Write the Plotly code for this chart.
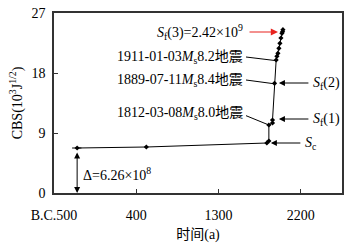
import plotly.graph_objects as go

# Data (year, CBS in 10^3 J^1/2)
years = [-247, 510, 1828, 1850, 1850, 1890, 1890, 1912, 1930, 1938, 1949, 1960, 1971, 1982, 1993, 2000, 2004]
cbs = [6.75, 6.9, 7.5, 7.8, 10.2, 10.5, 10.95, 16.45, 19.95, 20.5, 20.95, 21.7, 22.45, 23.25, 23.95, 24.2, 24.5]

x_tickvals = [-500, 400, 1300, 2200]
x_ticktext = ["B.C.500", "400", "1300", "2200"]
y_tickvals = [0, 9, 18, 27]

FONT = "'Liberation Serif', 'Times New Roman', 'Noto Sans CJK SC', serif"

fig = go.Figure()
fig.add_trace(go.Scatter(
    x=years, y=cbs, mode="lines+markers",
    line=dict(color="black", width=1),
    marker=dict(color="black", size=4, symbol="diamond"),
    showlegend=False, cliponaxis=False,
))

ann = []
labels = [
    ("<i>S</i><sub>f</sub>(3)=2.42×10<sup>9</sup>", 24.15),
    ("1911-01-03<i>M</i><sub>s</sub>8.2地震", 20.4),
    ("1889-07-11<i>M</i><sub>s</sub>8.4地震", 16.95),
    ("1812-03-08<i>M</i><sub>s</sub>8.0地震", 12.0),
]
for t, y in labels:
    ann.append(dict(x=1590, y=y, xref="x", yref="y", text=t, showarrow=False,
                    xanchor="right", yanchor="middle", font=dict(size=14, family=FONT, color="black")))

# arrows
ann.append(dict(x=1950, y=24.15, xref="x", yref="y", ax=-30, ay=0, text="", showarrow=True,
                arrowhead=2, arrowsize=1.2, arrowwidth=1.2, arrowcolor="#e8231f"))
for (hx, hy) in [(1960, 16.5), (1960, 11.1), (1872, 7.5)]:
    ann.append(dict(x=hx, y=hy, xref="x", yref="y", ax=31, ay=0, text="", showarrow=True,
                    arrowhead=2, arrowsize=1.2, arrowwidth=1, arrowcolor="black"))
for (tx, ty, txt) in [(2310, 16.5, "<i>S</i><sub>f</sub>(2)"), (2310, 11.1, "<i>S</i><sub>f</sub>(1)"),
                      (2220, 7.5, "<i>S</i><sub>c</sub>")]:
    ann.append(dict(x=tx, y=ty, xref="x", yref="y", text=txt, showarrow=False,
                    xanchor="left", yanchor="middle", font=dict(size=14, family=FONT, color="black")))

# delta double arrow
ann.append(dict(x=-247, y=0, xref="x", yref="y", ax=-247, ay=6.3, axref="x", ayref="y",
                text="", showarrow=True, arrowhead=2, arrowside="end+start", arrowsize=1.2,
                arrowwidth=1, arrowcolor="black"))
ann.append(dict(x=-200, y=2.9, xref="x", yref="y", text="Δ=6.26×10<sup>8</sup>", showarrow=False,
                xanchor="left", yanchor="middle", font=dict(size=14, family=FONT, color="black")))

shapes = [
    dict(type="line", xref="x", yref="y", x0=-302, y0=6.75, x1=-200, y1=6.75, line=dict(color="black", width=1)),
    dict(type="line", xref="x", yref="y", x0=1600, y0=20.4, x1=1930, y1=19.85, line=dict(color="black", width=1)),
    dict(type="line", xref="x", yref="y", x0=1600, y0=16.95, x1=1900, y1=16.4, line=dict(color="black", width=1)),
    dict(type="line", xref="x", yref="y", x0=1600, y0=11.6, x1=1850, y1=10.2, line=dict(color="black", width=1)),
]

fig.update_layout(
    width=364, height=245,
    margin=dict(l=54, r=22, t=13, b=52, autoexpand=False),
    paper_bgcolor="white", plot_bgcolor="white",
    font=dict(family=FONT, size=14, color="black"),
    annotations=ann, shapes=shapes,
    xaxis=dict(range=[-500, 2650], tickvals=x_tickvals, ticktext=x_ticktext, automargin=False,
               ticks="inside", ticklen=4, tickcolor="#333", showline=True, linecolor="#333",
               linewidth=1.5, mirror=True, showgrid=False, zeroline=False,
               ticklabelstandoff=8,
               title=dict(text="时间(a)", standoff=8, font=dict(size=14))),
    yaxis=dict(range=[0, 27], tickvals=y_tickvals, ticks="inside", ticklen=4, tickcolor="#333",
               showline=True, linecolor="#333", linewidth=1.5, mirror=True, showgrid=False,
               zeroline=False, ticklabelstandoff=4, automargin=False,
               title=dict(text="CBS(10<sup>3</sup>J<sup>1/2</sup>)", standoff=6, font=dict(size=14))),
)

fig.write_html("out.html", config={"displayModeBar": False},
               post_script="document.body.style.margin='0';document.body.style.padding='0';document.body.style.overflow='hidden';")
